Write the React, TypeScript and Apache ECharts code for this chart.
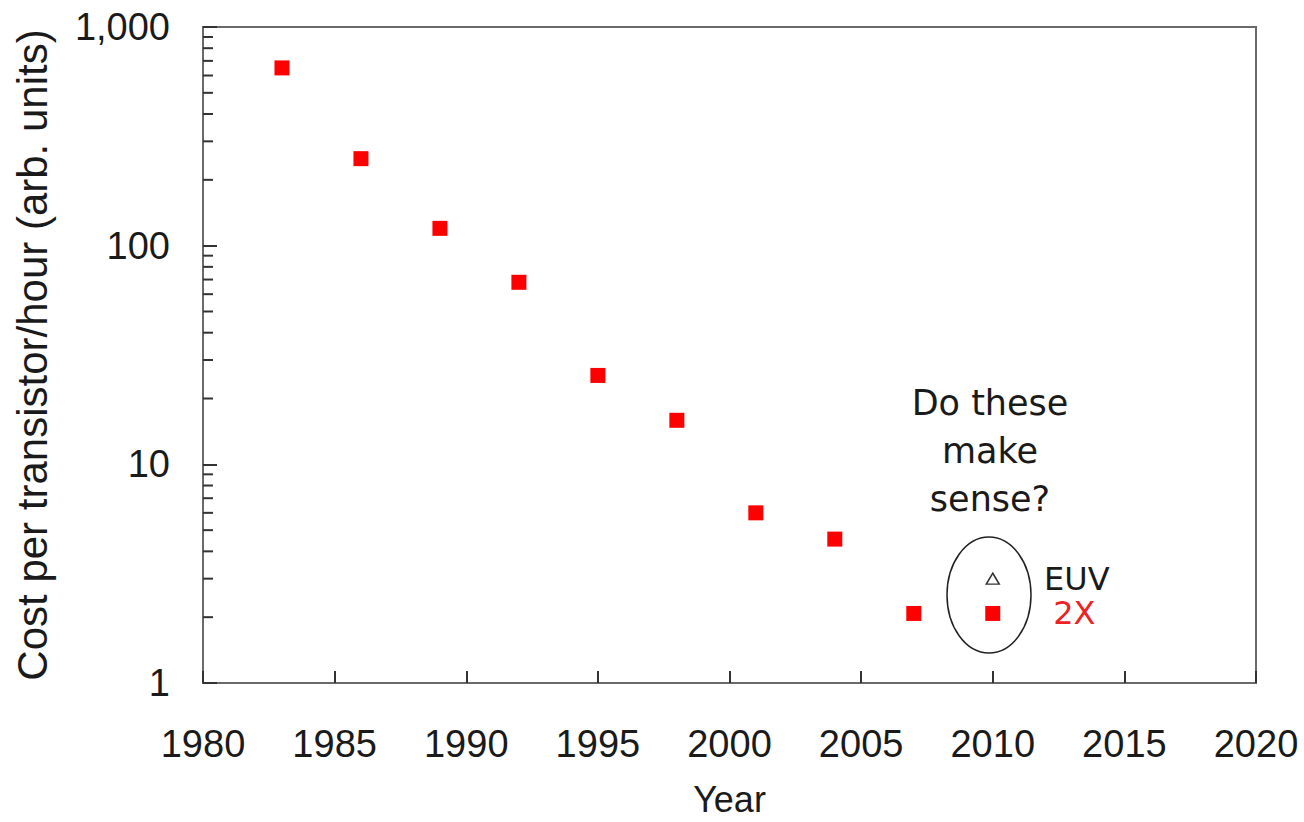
import React, { useEffect, useRef } from "react";
import * as echarts from "echarts";

// Cost per transistor per hour of exposure-tool time, by year
const years = [1983, 1986, 1989, 1992, 1995, 1998, 2001, 2004, 2007];
const costs = [650, 250, 120, 68, 25.5, 15.9, 6, 4.55, 2.08];

// Projected points for 2010
const doubleYear = 2010;
const doubleCost = 2.08;
const euvYear = 2010;
const euvCost = 3.0;

// Axis ranges and tick labels
const xTicks = [1980, 1985, 1990, 1995, 2000, 2005, 2010, 2015, 2020];
const yTicks = [1, 10, 100, 1000];
const yTickLabels = ["1", "10", "100", "1,000"];
const yMinorTicks = [
  2, 3, 4, 5, 6, 7, 8, 9,
  20, 30, 40, 50, 60, 70, 80, 90,
  200, 300, 400, 500, 600, 700, 800, 900,
];

const annotationLines = ["Do these", "make", "sense?"];

const FONT = "'Liberation Sans', Arial, sans-serif";
const ANNOT_FONT = "'DejaVu Sans', Verdana, sans-serif";

export default function App() {
  const ref = useRef<HTMLDivElement>(null);

  useEffect(() => {
    if (!ref.current) return;
    const chart = echarts.init(ref.current, undefined, { renderer: "svg" });

    const labelFor = (v: number) => {
      const i = yTicks.indexOf(Math.round(v));
      return i >= 0 ? yTickLabels[i] : "";
    };

    chart.setOption({
      animation: false,
      backgroundColor: "#ffffff",
      grid: {
        left: 203,
        top: 27,
        right: 48,
        bottom: 138,
        show: true,
        borderColor: "#6a6a6a",
        borderWidth: 2,
        backgroundColor: "transparent",
      },
      xAxis: {
        type: "value",
        min: xTicks[0],
        max: xTicks[xTicks.length - 1],
        interval: 5,
        name: "Year",
        nameLocation: "middle",
        nameGap: 98,
        nameTextStyle: { fontFamily: FONT, fontSize: 36, color: "#1a1a1a" },
        axisLine: { show: true, lineStyle: { color: "#6a6a6a", width: 2 } },
        axisTick: { show: true, inside: true, length: 12, lineStyle: { color: "#333", width: 2 } },
        axisLabel: {
          margin: 42,
          fontFamily: FONT,
          fontSize: 38,
          color: "#1a1a1a",
          formatter: (v: number) => String(v),
        },
        splitLine: { show: false },
      },
      yAxis: {
        type: "log",
        logBase: 10,
        min: yTicks[0],
        max: yTicks[yTicks.length - 1],
        name: "Cost per transistor/hour (arb. units)",
        nameLocation: "middle",
        nameGap: 150,
        nameRotate: 90,
        nameTextStyle: { fontFamily: FONT, fontSize: 42, color: "#1a1a1a" },
        axisLine: { show: true, lineStyle: { color: "#6a6a6a", width: 2 } },
        axisTick: { show: true, inside: true, length: 14, lineStyle: { color: "#333", width: 2 } },
        axisLabel: {
          margin: 33,
          fontFamily: FONT,
          fontSize: 38,
          color: "#1a1a1a",
          formatter: labelFor,
        },
        splitLine: { show: false },
      },
      graphic: [
        {
          type: "ellipse",
          shape: { cx: 989, cy: 595, rx: 42, ry: 58 },
          style: { fill: "none", stroke: "#222", lineWidth: 1.5 },
          z: 10,
        },
        {
          type: "text",
          x: 990,
          y: 379,
          style: {
            text: annotationLines.join("\n"),
            fontFamily: ANNOT_FONT,
            fontSize: 35,
            lineHeight: 48,
            fill: "#1a1a1a",
            align: "center",
            verticalAlign: "top",
          },
          z: 10,
        },
      ],
      series: [
        {
          // minor ticks of the log axis (2..9 within each decade)
          type: "custom",
          silent: true,
          coordinateSystem: "cartesian2d",
          data: yMinorTicks.map((v) => [xTicks[0], v]),
          renderItem: (_params: any, api: any) => {
            const p = api.coord([api.value(0), api.value(1)]);
            return {
              type: "line",
              shape: { x1: p[0], y1: p[1], x2: p[0] + 10, y2: p[1] },
              style: { stroke: "#333", lineWidth: 2 },
            };
          },
          z: 1,
        },
        {
          type: "scatter",
          symbol: "rect",
          symbolSize: 15,
          itemStyle: { color: "#ff0000", opacity: 1 },
          data: years.map((y, i) => [y, costs[i]]),
          z: 5,
        },
        {
          type: "scatter",
          symbol: "rect",
          symbolSize: 15,
          itemStyle: { color: "#ff0000", opacity: 1 },
          data: [[doubleYear, doubleCost]],
          label: {
            show: true,
            position: "right",
            distance: 53,
            formatter: "2X",
            fontFamily: ANNOT_FONT,
            fontSize: 32,
            color: "#ee2222",
          },
          z: 5,
        },
        {
          type: "scatter",
          symbol: "triangle",
          symbolSize: [13, 11],
          itemStyle: { color: "#ffffff", borderColor: "#333", borderWidth: 1.5, opacity: 1 },
          data: [[euvYear, euvCost]],
          label: {
            show: true,
            position: "right",
            distance: 44,
            formatter: "EUV",
            fontFamily: ANNOT_FONT,
            fontSize: 32,
            color: "#1a1a1a",
          },
          z: 5,
        },
      ],
    });

    return () => chart.dispose();
  }, []);

  return (
    <div
      ref={ref}
      style={{ position: "fixed", left: 0, top: 0, width: 1304, height: 822, background: "#fff" }}
    />
  );
}
